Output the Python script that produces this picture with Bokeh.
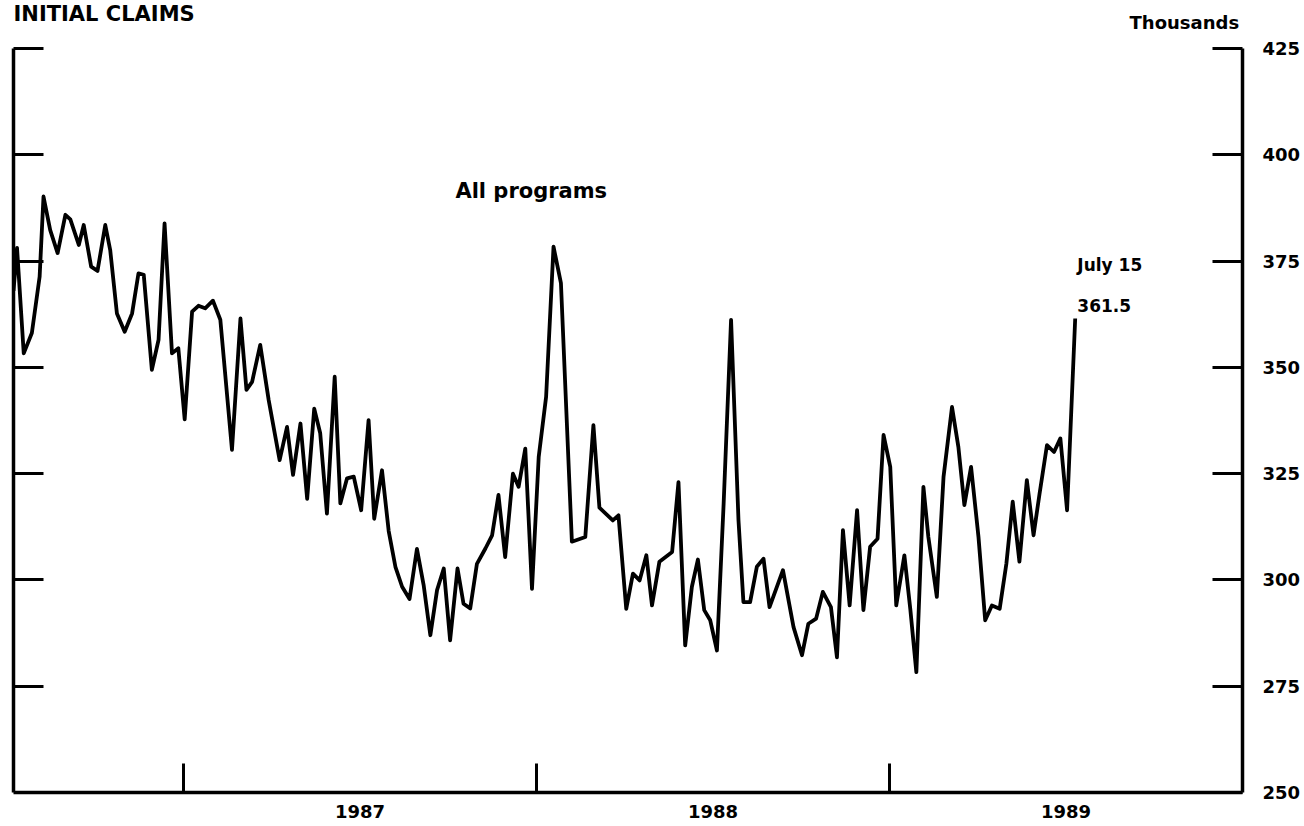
from bokeh.plotting import figure
from bokeh.models import Range1d, LinearAxis, FixedTicker, Label
from bokeh.embed import file_html
from bokeh.resources import INLINE

# Weekly initial claims, all programs (thousands), dates as decimal years
dates = [
    1986.518, 1986.528, 1986.547, 1986.570, 1986.592, 1986.603, 1986.622, 1986.643,
    1986.665, 1986.679, 1986.703, 1986.717, 1986.738, 1986.756, 1986.778, 1986.792,
    1986.811, 1986.833, 1986.854, 1986.872, 1986.887, 1986.910, 1986.929, 1986.946,
    1986.967, 1986.985, 1987.003, 1987.024, 1987.042, 1987.061, 1987.083, 1987.104,
    1987.137, 1987.161, 1987.178, 1987.194, 1987.217, 1987.241, 1987.272, 1987.293,
    1987.310, 1987.331, 1987.350, 1987.370, 1987.387, 1987.406, 1987.428, 1987.444,
    1987.463, 1987.482, 1987.503, 1987.524, 1987.540, 1987.562, 1987.581, 1987.600,
    1987.619, 1987.640, 1987.661, 1987.680, 1987.699, 1987.718, 1987.737, 1987.755,
    1987.776, 1987.793, 1987.812, 1987.831, 1987.855, 1987.874, 1987.892, 1987.911,
    1987.933, 1987.949, 1987.968, 1987.987, 1988.006, 1988.027, 1988.048, 1988.069,
    1988.100, 1988.138, 1988.161, 1988.178, 1988.216, 1988.232, 1988.254, 1988.273,
    1988.292, 1988.311, 1988.327, 1988.348, 1988.384, 1988.402, 1988.421, 1988.440,
    1988.457, 1988.475, 1988.492, 1988.511, 1988.530, 1988.551, 1988.572, 1988.586,
    1988.605, 1988.624, 1988.643, 1988.660, 1988.698, 1988.728, 1988.752, 1988.770,
    1988.792, 1988.811, 1988.834, 1988.851, 1988.868, 1988.887, 1988.908, 1988.926,
    1988.945, 1988.966, 1988.983, 1989.002, 1989.019, 1989.042, 1989.059, 1989.076,
    1989.096, 1989.110, 1989.134, 1989.153, 1989.177, 1989.195, 1989.212, 1989.231,
    1989.252, 1989.271, 1989.290, 1989.312, 1989.331, 1989.349, 1989.368, 1989.389,
    1989.408, 1989.425, 1989.446, 1989.466, 1989.484, 1989.503, 1989.526,
]
claims = [
    368.0, 378.1, 353.3, 358.1, 371.3, 390.2, 382.3, 376.9,
    385.9, 384.8, 378.8, 383.5, 373.7, 372.7, 383.5, 377.6,
    362.7, 358.4, 362.7, 372.1, 371.8, 349.4, 356.5, 383.9,
    353.3, 354.5, 337.8, 363.1, 364.5, 363.9, 365.7, 361.2,
    330.6, 361.5, 344.7, 346.6, 355.3, 342.3, 328.2, 336.0,
    324.7, 336.8, 319.1, 340.3, 334.5, 315.6, 347.8, 318.0,
    323.9, 324.3, 316.4, 337.6, 314.4, 325.8, 311.5, 303.1,
    298.4, 295.5, 307.3, 298.8, 287.0, 297.6, 302.7, 285.8,
    302.7, 294.4, 293.3, 303.8, 307.4, 310.5, 320.0, 305.4,
    325.0, 321.9, 330.9, 297.9, 328.9, 343.1, 378.4, 369.8,
    309.0, 310.1, 336.4, 317.0, 314.0, 315.2, 293.2, 301.5,
    299.9, 305.8, 294.0, 304.3, 306.6, 323.0, 284.6, 298.4,
    304.8, 292.9, 290.5, 283.4, 318.0, 361.2, 314.1, 294.8,
    294.8, 303.1, 305.0, 293.6, 302.3, 288.9, 282.3, 289.7,
    290.9, 297.2, 293.6, 281.8, 311.7, 294.0, 316.4, 292.9,
    307.8, 309.7, 334.1, 326.6, 294.0, 305.8, 293.0, 278.3,
    321.9, 310.1, 296.0, 324.3, 340.7, 331.3, 317.6, 326.6,
    310.1, 290.5, 294.0, 293.2, 303.8, 318.4, 304.3, 323.5,
    310.5, 320.3, 331.7, 330.1, 333.3, 316.4, 361.5,
]

y_ticks = [250, 275, 300, 325, 350, 375, 400, 425]
year_bounds = [1987, 1988, 1989]
year_mids = [1987.5, 1988.5, 1989.5]
year_labels = ["1987", "1988", "1989"]

FONT = "DejaVu Sans"

# frame reaches the top of the canvas so the header texts fall inside it;
# the vertical axes are bounded to 250-425
p = figure(width=1304, height=826,
           x_range=Range1d(1986.518, 1990.0), y_range=Range1d(250, 436.31),
           output_backend="svg", toolbar_location=None,
           x_axis_location=None, y_axis_location=None,
           min_border_left=13, min_border_right=62,
           min_border_top=0, min_border_bottom=34)
p.outline_line_color = None
p.grid.grid_line_color = None
p.background_fill_color = "white"
p.border_fill_color = "white"

bottom = LinearAxis(
    ticker=FixedTicker(ticks=year_mids, minor_ticks=year_bounds),
    major_label_overrides={m: l for m, l in zip(year_mids, year_labels)},
    major_tick_in=0, major_tick_out=0,
    minor_tick_in=29, minor_tick_out=0,
    minor_tick_line_width=3, minor_tick_line_color="black",
    axis_line_width=3.5, axis_line_color="black",
    major_label_standoff=12,
    major_label_text_font=FONT, major_label_text_font_style="bold",
    major_label_text_font_size="18px", major_label_text_color="black")
p.add_layout(bottom, "below")

right = LinearAxis(
    ticker=FixedTicker(ticks=y_ticks), bounds=(250, 425),
    major_tick_in=30, major_tick_out=0, minor_tick_in=0, minor_tick_out=0,
    major_tick_line_width=3, major_tick_line_color="black",
    axis_line_width=3.5, axis_line_color="black",
    major_label_standoff=20,
    major_label_text_font=FONT, major_label_text_font_style="bold",
    major_label_text_font_size="18px", major_label_text_color="black")
p.add_layout(right, "right")

left = LinearAxis(
    ticker=FixedTicker(ticks=y_ticks[1:]), bounds=(250, 425),
    major_tick_in=30, major_tick_out=0, minor_tick_in=0, minor_tick_out=0,
    major_tick_line_width=3, major_tick_line_color="black",
    axis_line_width=3.5, axis_line_color="black",
    major_label_standoff=0, major_label_text_font_size="0px",
    major_label_text_color=None)
p.add_layout(left, "left")

p.line(dates, claims, line_width=3.8, line_color="black", line_join="round")

def lab(x, y, text, size, baseline="middle"):
    p.add_layout(Label(x=x, y=y, text=text, text_font=FONT, text_font_style="bold",
                       text_font_size=size, text_color="black",
                       text_baseline=baseline, text_align="left"))

lab(1987.770, 391.6, "All programs", "21px")
lab(1989.532, 374.0, "July 15", "17px")
lab(1989.532, 364.6, "361.5", "17px")
lab(1989.680, 431.1, "Thousands", "18px")
lab(1986.518, 435.9, "INITIAL CLAIMS", "21px", baseline="top")

open("out.html", "w").write(file_html(p, INLINE))
